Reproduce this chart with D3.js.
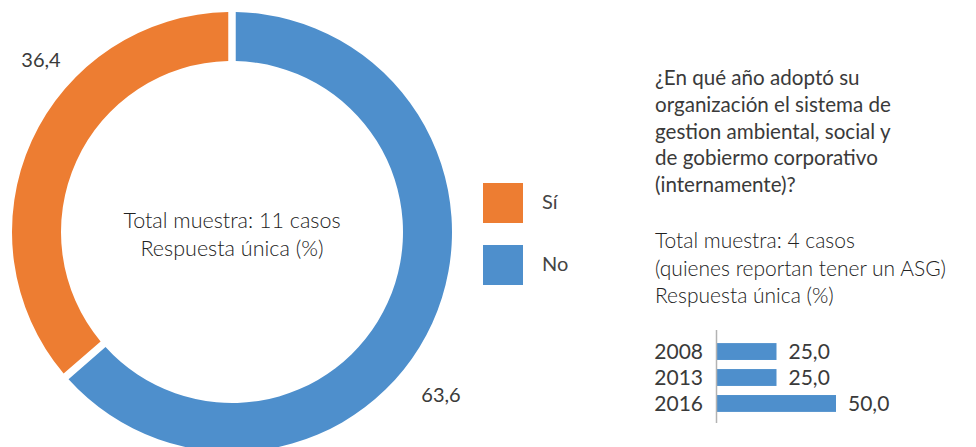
<!DOCTYPE html>
<html>
<head>
<meta charset="utf-8">
<script src="https://cdn.jsdelivr.net/npm/d3@7"></script>
<style>
  body { margin: 0; background: #fff; }
  text { font-family: Lato, "Open Sans", sans-serif; fill: #3a3a3a; }
</style>
</head>
<body>
<script>
// donut: respuestas Sí / No
var respuestas = ["No", "Sí"];
var porcentajes = [63.6, 36.4];
var etiquetas = ["63,6", "36,4"];
var colores = ["#4E8FCC", "#ED7D32"];

// barras: año de adopción
var anios = ["2008", "2013", "2016"];
var valoresAnio = [25.0, 25.0, 50.0];
var etiquetasAnio = ["25,0", "25,0", "50,0"];

var tituloLineas = ["¿En qué año adoptó su", "organización el sistema de",
  "gestion ambiental, social y", "de gobiermo corporativo", "(internamente)?"];
var notaLineas = ["Total muestra: 4 casos", "(quienes reportan tener un ASG)", "Respuesta única (%)"];
var centroLineas = ["Total muestra: 11 casos", "Respuesta única (%)"];

var width = 976, height = 447;

var svg = d3.select("body").append("svg")
    .attr("width", width)
    .attr("height", height);

// ---- donut
var cx = 232, cy = 232, rOut = 220, rIn = 171;

var pie = d3.pie().sort(null).value(function(d) { return d; });
var arc = d3.arc().innerRadius(rIn).outerRadius(rOut)
    .padAngle(0.034).padRadius(rOut);

var g = svg.append("g").attr("transform", "translate(" + cx + "," + cy + ")");

g.selectAll("path")
    .data(pie(porcentajes))
    .enter().append("path")
    .attr("d", arc)
    .attr("fill", function(d, i) { return colores[i]; });

// value labels outside the ring
var labelPos = [[209, 170], [-191, -165]];
g.selectAll(".val")
    .data(etiquetas)
    .enter().append("text")
    .attr("class", "val")
    .attr("x", function(d, i) { return labelPos[i][0]; })
    .attr("y", function(d, i) { return labelPos[i][1]; })
    .attr("text-anchor", "middle")
    .style("font-size", "20px")
    .text(function(d) { return d; });

g.selectAll(".centro")
    .data(centroLineas)
    .enter().append("text")
    .attr("class", "centro")
    .attr("y", function(d, i) { return -4 + i * 28; })
    .attr("text-anchor", "middle")
    .style("font-size", "21.5px")
    .style("font-weight", 300)
    .style("fill", "#222")
    .text(function(d) { return d; });

// ---- legend (Sí first, then No)
var leyenda = svg.append("g").attr("transform", "translate(483,183)");
var ordenLeyenda = [1, 0];
ordenLeyenda.forEach(function(k, i) {
  leyenda.append("rect")
      .attr("x", 0).attr("y", i * 62)
      .attr("width", 40).attr("height", 40)
      .attr("fill", colores[k]);
  leyenda.append("text")
      .attr("x", 59).attr("y", i * 62 + 26)
      .style("font-size", "20px")
      .style("fill", "#444")
      .text(respuestas[k]);
});

// ---- title block
svg.append("g").selectAll("text")
    .data(tituloLineas)
    .enter().append("text")
    .attr("x", 655)
    .attr("y", function(d, i) { return 85 + i * 26.8; })
    .style("font-size", "20.6px")
    .style("fill", "#3a3a3a")
    .text(function(d) { return d; });

svg.append("g").selectAll("text")
    .data(notaLineas)
    .enter().append("text")
    .attr("x", 655)
    .attr("y", function(d, i) { return 248 + i * 27.5; })
    .style("font-size", "21px")
    .style("font-weight", 300)
    .style("fill", "#222")
    .text(function(d) { return d; });

// ---- horizontal bars
var x = d3.scaleLinear().domain([0, 50]).range([717, 836]);
var y = d3.scaleBand().domain(anios).range([334, 421]).padding(0.35);

var barras = svg.append("g");

barras.selectAll("rect")
    .data(valoresAnio)
    .enter().append("rect")
    .attr("x", x(0))
    .attr("y", function(d, i) { return y(anios[i]); })
    .attr("width", function(d) { return x(d) - x(0); })
    .attr("height", y.bandwidth())
    .attr("fill", colores[0]);

barras.selectAll(".anio")
    .data(anios)
    .enter().append("text")
    .attr("class", "anio")
    .attr("x", 703)
    .attr("y", function(d) { return y(d) + y.bandwidth() / 2; })
    .attr("dy", "0.36em")
    .attr("text-anchor", "end")
    .style("font-size", "21px")
    .text(function(d) { return d; });

barras.selectAll(".vanio")
    .data(valoresAnio)
    .enter().append("text")
    .attr("class", "vanio")
    .attr("x", function(d) { return x(d) + 12; })
    .attr("y", function(d, i) { return y(anios[i]) + y.bandwidth() / 2; })
    .attr("dy", "0.36em")
    .style("font-size", "21px")
    .text(function(d, i) { return etiquetasAnio[i]; });

barras.append("line")
    .attr("x1", 716.5).attr("x2", 716.5)
    .attr("y1", 330).attr("y2", 423)
    .attr("stroke", "#b3b3b3")
    .attr("stroke-width", 1.5);
</script>
</body>
</html>
